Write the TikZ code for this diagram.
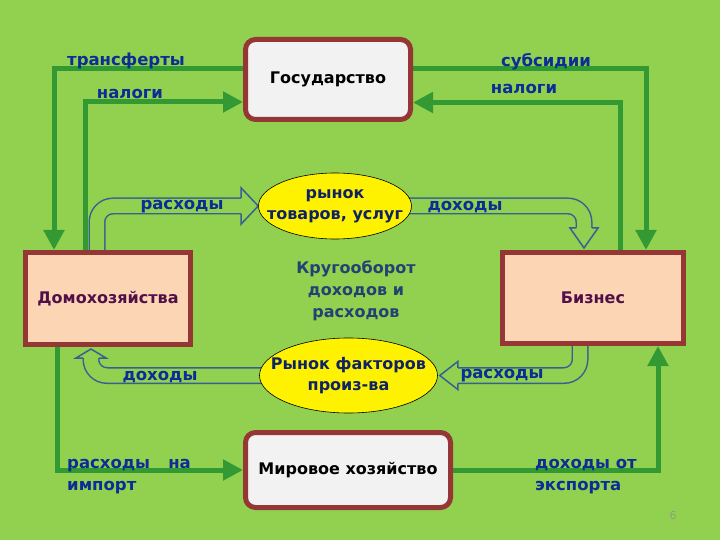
\documentclass[tikz,border=0pt]{standalone}
\usepackage{fontspec}
\setmainfont{DejaVu Sans}
\usetikzlibrary{calc,shapes.geometric,arrows.meta}
\definecolor{bg}{RGB}{146,208,80}
\definecolor{garr}{RGB}{51,153,51}
\definecolor{bord}{RGB}{149,55,53}
\definecolor{peach}{RGB}{252,213,181}
\definecolor{lblue}{RGB}{10,45,150}
\definecolor{cblue}{RGB}{35,65,115}
\definecolor{purp}{RGB}{80,15,70}
\definecolor{hblue}{RGB}{55,96,146}
\definecolor{navy}{RGB}{15,35,100}
\definecolor{gbox}{RGB}{242,242,242}
\definecolor{pgc}{RGB}{140,160,130}
\pgfdeclarelayer{back}
\pgfdeclarelayer{lines}
\pgfsetlayers{back,lines,main}
\begin{document}
\begin{tikzpicture}[x=1pt,y=-1pt,
 rbox/.style={draw=bord, line width=5pt, fill=gbox, rounded corners=10pt, text=black, font=\bfseries\fontsize{16}{18}\selectfont},
 sbox/.style={draw=bord, line width=5pt, fill=peach, text=purp, font=\bfseries\fontsize{16}{18}\selectfont},
 mkt/.style={ellipse, draw=black, line width=0.6pt, fill=yellow, inner sep=0pt},
 mktext/.style={text=navy, align=center, inner sep=0pt, font=\bfseries\fontsize{16}{21}\selectfont},
 lab/.style={text=lblue, inner sep=0pt, font=\bfseries\fontsize{16.5}{22}\selectfont},
 garrow/.style={draw=garr, line width=5pt, -{Triangle[length=20pt,width=20pt]}},
 bandout/.style={draw=hblue, line width=17pt, rounded corners=16pt},
 bandin/.style={draw=bg, line width=14pt, rounded corners=16pt},
 headfill/.style={fill=bg},
 headline/.style={draw=hblue, line width=1.5pt, line join=miter}]
\useasboundingbox (0,0) rectangle (720,540);
\begin{pgfonlayer}{back}
\fill[bg] (0,0) rectangle (720,540);
\end{pgfonlayer}

% nodes
\node[rbox, minimum width=165pt, minimum height=80pt] (gov) at (328,79.5) {Государство};
\node[sbox, minimum width=165pt, minimum height=92pt] (hh) at (108,298.5) {Домохозяйства};
\node[sbox, minimum width=181pt, minimum height=91pt] (biz) at (593,298) {Бизнес};
\node[rbox, minimum width=205pt, minimum height=75pt] (world) at (348,470) {Мировое хозяйство};
\node[mkt, minimum width=153pt, minimum height=66pt] (m1) at (335,206) {};
\node[mktext] (m1t) at (m1.center) {рынок\\товаров, услуг};
\node[mkt, minimum width=178pt, minimum height=75pt] (m2) at (348.5,375.5) {};
\node[mktext] (m2t) at (m2.center) {Рынок факторов\\произ-ва};
\node[text=cblue, align=center, font=\bfseries\fontsize{16}{22}\selectfont] (circ) at (356,291) {Кругооборот\\доходов и\\расходов};

% green connectors
\begin{pgfonlayer}{lines}
\draw[garrow] ($(gov.west)+(0,-10.5)$) -| ($(hh.north west)+(31,0)$);
\draw[garrow] ($(hh.north west)+(62,0)$) |- ($(gov.west)+(0,22.5)$);
\draw[garrow] ($(gov.east)+(0,-10.5)$) -| ($(biz.north west)+(146,0)$);
\draw[garrow] ($(biz.north west)+(120,0)$) |- ($(gov.east)+(0,23)$);
\draw[garrow] ($(hh.south west)+(34,0)$) |- (world.west);
\draw[garrow] (world.east) -| ($(biz.south west)+(158,0)$);

% hollow arrows
\coordinate (a1s) at ($(hh.north west)+(74,2)$);
\coordinate (a1c) at (a1s |- m1.west);
\coordinate (a1e) at ($(m1.west)+(-17,0)$);
\draw[bandout] (a1s) -- (a1c) -- (a1e);
\draw[bandin] ($(a1s)+(0,2)$) -- (a1c) -- (a1e);
\path[headfill] ($(a1e)+(0,-8.5)$) -- ($(a1e)+(0,-18)$) -- (m1.west) -- ($(a1e)+(0,18)$) -- ($(a1e)+(0,8.5)$) -- cycle;
\draw[headline] ($(a1e)+(0,-7.75)$) -- ($(a1e)+(0,-18)$) -- (m1.west) -- ($(a1e)+(0,18)$) -- ($(a1e)+(0,7.75)$);

\coordinate (a2s) at ($(m1.east)+(-10,0)$);
\coordinate (a2c) at ($(biz.north west)+(84,0)$);
\coordinate (a2k) at (a2c |- m1.east);
\coordinate (a2e) at ($(a2c)+(0,-22)$);
\draw[bandout] (a2s) -- (a2k) -- (a2e);
\draw[bandin] (a2s) -- (a2k) -- (a2e);
\path[headfill] ($(a2e)+(-8.5,0)$) -- ($(a2e)+(-14,0)$) -- (a2c) -- ($(a2e)+(14,0)$) -- ($(a2e)+(8.5,0)$) -- cycle;
\draw[headline] ($(a2e)+(-7.75,0)$) -- ($(a2e)+(-14,0)$) -- ($(a2c)+(0,-2)$) -- ($(a2e)+(14,0)$) -- ($(a2e)+(7.75,0)$);

\coordinate (a3s) at ($(m2.west)+(10,0)$);
\coordinate (a3c) at ($(hh.south west)+(68,0)$);
\coordinate (a3k) at (a3c |- m2.west);
\coordinate (a3e) at ($(a3c)+(0,11)$);
\draw[bandout] (a3s) -- (a3k) -- (a3e);
\draw[bandin] (a3s) -- (a3k) -- (a3e);
\path[headfill] ($(a3e)+(-8.5,0)$) -- ($(a3e)+(-15,0)$) -- ($(a3c)+(0,2)$) -- ($(a3e)+(15,0)$) -- ($(a3e)+(8.5,0)$) -- cycle;
\draw[headline] ($(a3e)+(-7.75,0)$) -- ($(a3e)+(-15,0)$) -- ($(a3c)+(0,2)$) -- ($(a3e)+(15,0)$) -- ($(a3e)+(7.75,0)$);

\coordinate (a4s) at ($(biz.south west)+(80,-2)$);
\coordinate (a4k) at (a4s |- m2.east);
\coordinate (a4e) at ($(m2.east)+(20,0)$);
\draw[bandout] (a4s) -- (a4k) -- (a4e);
\draw[bandin] ($(a4s)+(0,-2)$) -- (a4k) -- (a4e);
\path[headfill] ($(a4e)+(0,-8.5)$) -- ($(a4e)+(0,-14)$) -- ($(m2.east)+(2,0)$) -- ($(a4e)+(0,14)$) -- ($(a4e)+(0,8.5)$) -- cycle;
\draw[headline] ($(a4e)+(0,-7.75)$) -- ($(a4e)+(0,-14)$) -- ($(m2.east)+(2,0)$) -- ($(a4e)+(0,14)$) -- ($(a4e)+(0,7.75)$);
\end{pgfonlayer}

% labels
\node[lab] (l1) at (126,61) {трансферты};
\node[lab] (l2) at (130,94) {налоги};
\node[lab] (l3) at (546,62) {субсидии};
\node[lab] (l4) at (524,89) {налоги};
\node[lab] (l5) at (182,207) {расходы};
\node[lab] (l6) at (465,207) {доходы};
\node[lab] (l7) at (160,377) {доходы};
\node[lab] (l8) at (502,376) {расходы};
\node[lab, anchor=west, align=left] (l9) at (67,477) {расходы\hspace{1.1em}на\\импорт};
\node[lab, anchor=west, align=left] (l10) at (535,477) {доходы от\\экспорта};
\node[text=pgc, font=\fontsize{11}{12}\selectfont] (pg) at (673,515) {6};
\end{tikzpicture}
\end{document}
